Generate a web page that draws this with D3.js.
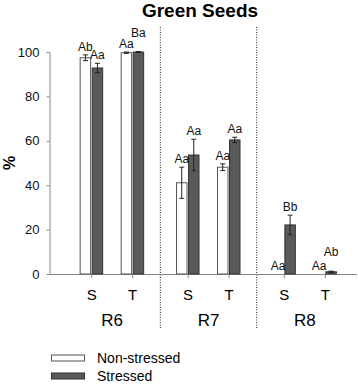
<!DOCTYPE html>
<html lang="en">
<head>
<meta charset="UTF-8">
<title>Green Seeds</title>
<style>
body { margin: 0; background: #fff; }
svg { display: block; font-family: "Liberation Sans", Arial, sans-serif; }
.axis path, .axis line { stroke: #888; }
.axis text { font-size: 13px; fill: #111; }
.divider { stroke: #222; stroke-width: 1; stroke-dasharray: 1 1.5; }
.letter { font-size: 12px; fill: #111; text-anchor: middle; }
</style>
</head>
<body>
<script src="https://cdnjs.cloudflare.com/ajax/libs/d3/7.8.5/d3.min.js"></script>
<script>
// data
var stages = ["R6", "R7", "R8"];
var cultivars = ["S", "T"];
var treatments = ["Non-stressed", "Stressed"];
// order: R6-S, R6-T, R7-S, R7-T, R8-S, R8-T
var nonStressed = [97.4, 99.7, 41.1, 48.1, 0, 0];
var nonStressedErr = [1.3, 0.3, 7.0, 1.5, 0, 0];
var stressed = [92.8, 100, 53.6, 60.4, 22.1, 1.0];
var stressedErr = [2.1, 0.2, 7.1, 1.2, 4.4, 0.3];
var nonStressedLetters = ["Ab", "Aa", "Aa", "Aa", "Aa", "Aa"];
var stressedLetters = ["Aa", "Ba", "Aa", "Aa", "Bb", "Ab"];
var yTicks = [0, 20, 40, 60, 80, 100];

var width = 358, height = 384;
var svg = d3.select("body").append("svg")
  .attr("width", width).attr("height", height);

// scales
var y = d3.scaleLinear().domain([0, 100]).range([274, 52]);
var xStage = d3.scaleBand().domain(stages).range([64, 353]);
var xCult = d3.scaleBand().domain(cultivars).range([-41, 41]);
var xTreat = d3.scaleBand().domain(treatments).range([-11.5, 11]).paddingInner(0.13);

var fills = { "Non-stressed": "#ffffff", "Stressed": "#5a5a5a" };
var strokes = { "Non-stressed": "#555", "Stressed": "#333" };

// flatten
var rows = [];
stages.forEach(function (st, i) {
  cultivars.forEach(function (c, j) {
    var k = i * cultivars.length + j;
    var cx = xStage(st) + xStage.bandwidth() / 2 + xCult(c) + xCult.bandwidth() / 2;
    rows.push({ stage: st, cult: c, cx: cx, treat: "Non-stressed",
      v: nonStressed[k], e: nonStressedErr[k], letter: nonStressedLetters[k] });
    rows.push({ stage: st, cult: c, cx: cx, treat: "Stressed",
      v: stressed[k], e: stressedErr[k], letter: stressedLetters[k] });
  });
});

// title
svg.append("text")
  .attr("x", 200).attr("y", 17)
  .attr("text-anchor", "middle")
  .style("font-weight", "bold").style("font-size", "19px")
  .text("Green Seeds");

// y label
svg.append("text")
  .attr("transform", "translate(15,163) rotate(-90)")
  .attr("text-anchor", "middle")
  .style("font-weight", "bold").style("font-size", "16px")
  .text("%");

// dividers between stages
stages.slice(1).forEach(function (st) {
  var xd = xStage(st);
  svg.append("line").attr("class", "divider")
    .attr("x1", xd).attr("x2", xd).attr("y1", 27).attr("y2", 328);
});

// y axis
svg.append("g").attr("class", "axis")
  .attr("transform", "translate(49.5,0)")
  .call(d3.axisLeft(y).tickValues(yTicks).tickSize(3).tickSizeOuter(0).tickPadding(7));

// x axis line + ticks
var xg = svg.append("g").attr("class", "axis");
xg.append("line").attr("x1", 49.5).attr("x2", 357).attr("y1", y(0) + 0.5).attr("y2", y(0) + 0.5);

var ticks = rows.filter(function (d) { return d.treat === "Non-stressed"; });
xg.selectAll(".xt").data(ticks).enter().append("line")
  .attr("x1", function (d) { return d.cx; }).attr("x2", function (d) { return d.cx; })
  .attr("y1", y(0)).attr("y2", y(0) + 4);

svg.selectAll(".cultLabel").data(ticks).enter().append("text")
  .attr("x", function (d) { return d.cx; }).attr("y", 299.5)
  .attr("text-anchor", "middle").style("font-size", "15px")
  .text(function (d) { return d.cult; });

svg.selectAll(".stageLabel").data(stages).enter().append("text")
  .attr("x", function (d) { return xStage(d) + xStage.bandwidth() / 2; }).attr("y", 326)
  .attr("text-anchor", "middle").style("font-size", "17px")
  .text(function (d) { return d; });

// bars
var bw = xTreat.bandwidth();
svg.selectAll(".bar").data(rows.filter(function (d) { return d.v > 0; })).enter().append("rect")
  .attr("x", function (d) { return d.cx + xTreat(d.treat); })
  .attr("width", bw)
  .attr("y", function (d) { return y(d.v); })
  .attr("height", function (d) { return y(0) - y(d.v); })
  .attr("fill", function (d) { return fills[d.treat]; })
  .attr("stroke", function (d) { return strokes[d.treat]; })
  .attr("stroke-width", 1);

// error bars
var eb = svg.selectAll(".err").data(rows.filter(function (d) { return d.e > 0; })).enter().append("g")
  .attr("stroke", "#222").attr("stroke-width", 1);
eb.append("line")
  .attr("x1", function (d) { return d.cx + xTreat(d.treat) + bw / 2; })
  .attr("x2", function (d) { return d.cx + xTreat(d.treat) + bw / 2; })
  .attr("y1", function (d) { return y(d.v - d.e); })
  .attr("y2", function (d) { return y(d.v + d.e); });
[-1, 1].forEach(function (s) {
  eb.append("line")
    .attr("x1", function (d) { return d.cx + xTreat(d.treat) + bw / 2 - 2.5; })
    .attr("x2", function (d) { return d.cx + xTreat(d.treat) + bw / 2 + 2.5; })
    .attr("y1", function (d) { return y(d.v + s * d.e); })
    .attr("y2", function (d) { return y(d.v + s * d.e); });
});

// significance letters, lift the stressed one if it would collide
rows.forEach(function (d) { d.ly = y(d.v + d.e) - 4; });
for (var i = 0; i < rows.length; i += 2) {
  var a = rows[i], b = rows[i + 1];
  if (Math.abs(a.ly - b.ly) < 6) b.ly = Math.min(a.ly, b.ly) - 11;
}
svg.selectAll(".letter").data(rows).enter().append("text")
  .attr("class", "letter")
  .attr("x", function (d) { return d.cx + xTreat(d.treat) + bw / 2; })
  .attr("y", function (d) { return d.ly; })
  .text(function (d) { return d.letter; });

// legend
var lg = svg.append("g");
treatments.forEach(function (t, i) {
  var ly = 358 + i * 18;
  lg.append("rect").attr("x", 51.5).attr("y", ly - 3).attr("width", 33).attr("height", 6)
    .attr("fill", fills[t]).attr("stroke", strokes[t]);
  lg.append("text").attr("x", 97).attr("y", ly + 5)
    .style("font-size", "14px").text(t);
});
</script>
</body>
</html>
